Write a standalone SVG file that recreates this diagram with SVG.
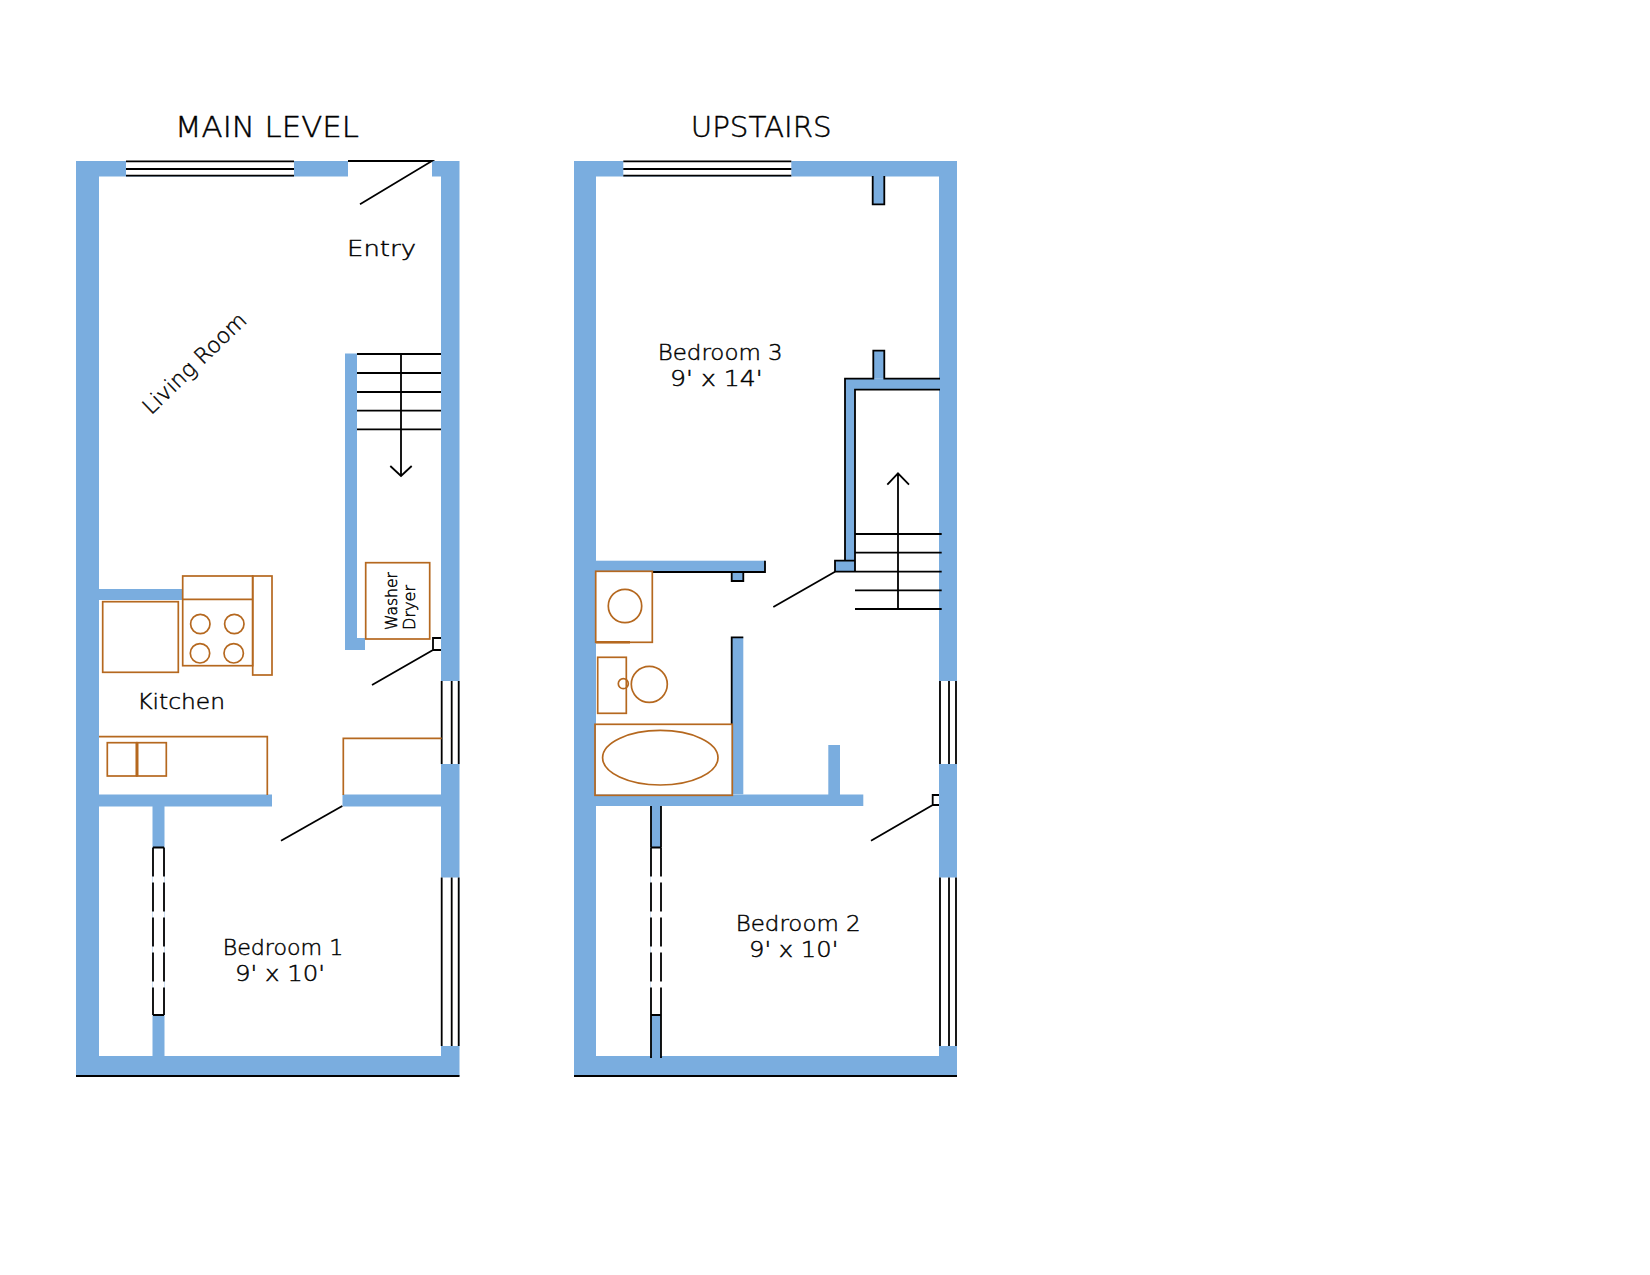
<svg xmlns="http://www.w3.org/2000/svg" width="1650" height="1275" viewBox="0 0 1650 1275">
<style>
.w{fill:#7aaddf;stroke:none}
.k{fill:none;stroke:#000;stroke-width:1.8}
.o{fill:none;stroke:#b5681f;stroke-width:1.7}
.d{stroke-dasharray:29 6}
.e{fill:#fff;stroke:none}
text{font-family:"DejaVu Sans","Liberation Sans",sans-serif;font-weight:200;fill:#000;stroke:#000;stroke-width:.45}
.t{font-size:29px}
.r{font-size:21.5px}
.s{font-size:15.5px}
</style>
<defs>
<g id="win-h"><rect class="e" x="0" y="161" width="168" height="15"/><path class="k" d="M0 161.3H168M0 169H168M0 175.7H168"/></g>
</defs>
<rect width="1650" height="1275" fill="#fff"/>
<g id="main-level">
<g id="main-walls">
<path class="w" d="M76 161H348V176.5H99V1056H441V176.5H432V161H459.5V1076H76Z"/>
<rect class="w" x="99" y="589" width="84" height="11"/>
<path class="w" d="M345 353.5H357V638H365V650H345Z"/>
<rect class="w" x="99" y="794.5" width="173" height="12"/>
<rect class="w" x="342.5" y="794.5" width="99" height="12"/>
<rect class="w" x="152.5" y="806" width="12" height="250"/>
<path class="k" d="M76 1076H459.5"/>
</g>
<g id="main-windows">
<use href="#win-h" x="126"/>
<rect class="e" x="441" y="681" width="18.5" height="83"/>
<path class="k" d="M441.7 681V764M451.7 681V764M458.7 681V764"/>
<rect class="e" x="441" y="877.5" width="18.5" height="168.5"/>
<path class="k" d="M441.7 877.5V1046M451.7 877.5V1046M458.7 877.5V1046"/>
</g>
<g id="main-closet-door">
<rect class="e" x="152.7" y="847.5" width="11.6" height="167.5"/>
<path class="k d" d="M153 847.5V1015M164 847.5V1015"/>
<path class="k" d="M153 847.5H164M153 1015H164"/>
</g>
<g id="main-doors">
<path class="k" d="M348 161H432L360 204.3"/>
<path class="k" d="M441 638H433V650H441M433 650L372 685"/>
<path class="k" d="M342.3 806L281 840.7"/>
</g>
<g id="main-stairs">
<path class="k" d="M357 354H441M357 373H441M357 392H441M357 410.7H441M357 429.3H441"/>
<path class="k" d="M401 354V476M390.3 466L401 476L411.7 466"/>
</g>
<g id="main-fixtures">
<rect class="o" x="365.7" y="562.7" width="64" height="76.3"/>
<rect class="o" x="102.7" y="601.7" width="75.6" height="70.6"/>
<rect class="o" x="182.7" y="576" width="70" height="89.7"/>
<path class="o" d="M182.7 599.3H252.7"/>
<rect class="o" x="252.7" y="576" width="19.3" height="99"/>
<circle class="o" cx="200.3" cy="624" r="9.7"/>
<circle class="o" cx="234.3" cy="624" r="9.7"/>
<circle class="o" cx="200" cy="653.3" r="9.7"/>
<circle class="o" cx="233.7" cy="653.3" r="9.7"/>
<path class="o" d="M99 736.7H267.3V795"/>
<rect class="o" x="107.3" y="742.7" width="29.5" height="33.3"/>
<rect class="o" x="137" y="742.7" width="29.3" height="33.3"/>
<path class="o" style="stroke-width:3" d="M137 742.7V776"/>
<path class="o" d="M343.3 795V738.3H441.7"/>
</g>
<g id="main-labels">
<text class="t" x="175" y="137" textLength="184" lengthAdjust="spacingAndGlyphs">MAIN LEVEL</text>
<text class="r" x="347" y="255.5" textLength="69" lengthAdjust="spacingAndGlyphs">Entry</text>
<text class="r" transform="translate(151 415.5) rotate(-44)" textLength="135" lengthAdjust="spacingAndGlyphs">Living Room</text>
<text class="r" x="137.3" y="709" textLength="87.7" lengthAdjust="spacingAndGlyphs">Kitchen</text>
<text class="r" x="222.7" y="954.5" textLength="120.6" lengthAdjust="spacingAndGlyphs">Bedroom 1</text>
<text class="r" x="235" y="981" textLength="90" lengthAdjust="spacingAndGlyphs">9' x 10'</text>
<text class="s" transform="translate(396.5 630) rotate(-90)" textLength="58" lengthAdjust="spacingAndGlyphs">Washer</text>
<text class="s" transform="translate(415 630) rotate(-90)" textLength="45" lengthAdjust="spacingAndGlyphs">Dryer</text>
</g>
</g>
<g id="upstairs">
<g id="up-walls">
<path class="w" d="M574 161H957V1076H574ZM596 176.5V1056H939V176.5Z" fill-rule="evenodd"/>
<rect class="w" x="872.7" y="176" width="11.6" height="28.3"/>
<rect class="w" x="873.3" y="350.7" width="11" height="28"/>
<path class="w" d="M845 378.7H940V389.7H855V571.7H835V560.7H845Z"/>
<rect class="w" x="596" y="560.7" width="169" height="11.3"/>
<rect class="w" x="731.7" y="572" width="11.6" height="9"/>
<rect class="w" x="731.7" y="637.3" width="11.6" height="157"/>
<rect class="w" x="596" y="794.5" width="267.3" height="11.5"/>
<rect class="w" x="828.3" y="745" width="11.7" height="50"/>
<rect class="w" x="650.7" y="806" width="10.3" height="250"/>
<path class="k" d="M574 1076H957"/>
<path class="k" d="M872.7 176V204.3H884.3V176"/>
<path class="k" d="M845 560.7V378.7H873.3V350.7H884.3V378.7H940M855 571.7V389.7H940"/>
<path class="k" d="M855 560.7H835V571.7H855"/>
<path class="k" d="M652.7 572H765V560.7"/>
<path class="k" d="M731.7 572V581H743.3V572"/>
<path class="k" d="M743.3 637.3H731.7V724"/>
<path class="k" d="M651 806V847.5M661 806V847.5M651 1015V1058M661 1015V1058"/>
</g>
<g id="up-windows">
<use href="#win-h" x="623.3"/>
<rect class="e" x="939.5" y="681" width="17.5" height="83"/>
<path class="k" d="M940 681V764M949 681V764M956 681V764"/>
<rect class="e" x="939.5" y="877.5" width="17.5" height="168.5"/>
<path class="k" d="M940 877.5V1046M949 877.5V1046M956 877.5V1046"/>
</g>
<g id="up-closet-door">
<rect class="e" x="651" y="847.5" width="10" height="167.5"/>
<path class="k d" d="M651 847.5V1015M661 847.5V1015"/>
<path class="k" d="M651 847.5H661M651 1015H661"/>
</g>
<g id="up-doors">
<path class="k" d="M835 571.7L773.3 607"/>
<path class="k" d="M939 795H932.7V805H939M932.7 805L871 840.7"/>
</g>
<g id="up-stairs">
<path class="k" d="M855 534H941.7M855 552.7H941.7M855 571.7H941.7M855 590.3H941.7M855 609H941.7"/>
<path class="k" d="M898 473.3V609M887.3 484.7L898 473.3L909 484.7"/>
</g>
<g id="up-fixtures">
<rect class="o" x="595.7" y="571.3" width="56.6" height="71"/>
<path class="o" style="stroke-width:2.6" d="M596 642.3H630"/>
<circle class="o" cx="625" cy="606" r="16.7"/>
<rect class="o" x="597.7" y="657.3" width="28.6" height="56"/>
<circle class="o" cx="623.3" cy="683.7" r="5"/>
<circle class="o" cx="649.3" cy="684.3" r="18"/>
<rect class="o" x="595" y="724.3" width="137.3" height="71"/>
<ellipse class="o" cx="660.3" cy="757.7" rx="57.7" ry="27.3"/>
</g>
<g id="up-labels">
<text class="t" x="690.7" y="137" textLength="141" lengthAdjust="spacingAndGlyphs">UPSTAIRS</text>
<text class="r" x="657.7" y="359.5" textLength="125" lengthAdjust="spacingAndGlyphs">Bedroom 3</text>
<text class="r" x="670" y="385.5" textLength="92.7" lengthAdjust="spacingAndGlyphs">9' x 14'</text>
<text class="r" x="735.7" y="931" textLength="125" lengthAdjust="spacingAndGlyphs">Bedroom 2</text>
<text class="r" x="749" y="956.5" textLength="89.3" lengthAdjust="spacingAndGlyphs">9' x 10'</text>
</g>
</g>
</svg>
